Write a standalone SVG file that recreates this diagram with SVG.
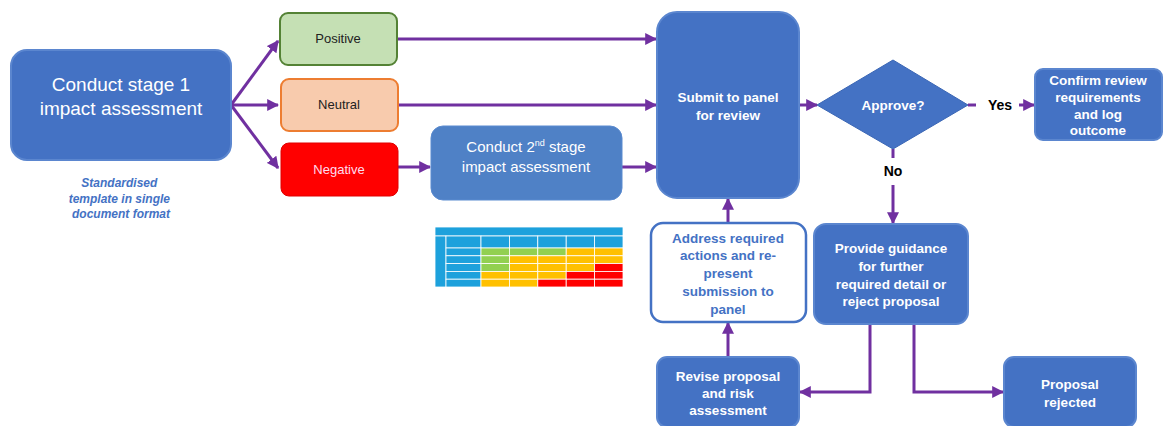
<svg xmlns="http://www.w3.org/2000/svg" width="1165" height="426" viewBox="0 0 1165 426">
<defs>
<marker id="ah" viewBox="0 0 10 10" refX="9" refY="5" markerWidth="4" markerHeight="4" orient="auto" markerUnits="strokeWidth">
<path d="M0,0 L10,5 L0,10 z" fill="#7030A0"/>
</marker>
<style>
.c{stroke:#7030A0;stroke-width:3;fill:none}
.a{marker-end:url(#ah)}
.blue{fill:#4472C4;stroke:#5B86CF;stroke-width:2}
.t{font-family:"Liberation Sans",Arial,sans-serif;text-anchor:middle}
.w{fill:#fff;font-weight:bold;font-size:13.5px}
.g{fill:#1DA1DC;stroke:#fff;stroke-width:0.8}
.gr{fill:#92D050;stroke:#fff;stroke-width:0.8}
.y{fill:#FFC000;stroke:#fff;stroke-width:0.8}
.r{fill:#FF0000;stroke:#fff;stroke-width:0.8}
</style>
</defs>
<rect width="1165" height="426" fill="#fff"/>

<g id="connectors">
<line class="c a" x1="231" y1="105" x2="278" y2="41"/>
<line class="c a" x1="231" y1="105" x2="278" y2="105"/>
<line class="c a" x1="231" y1="105" x2="278" y2="168"/>
<line class="c a" x1="398" y1="39" x2="656" y2="39"/>
<line class="c a" x1="398" y1="105" x2="656" y2="105"/>
<line class="c a" x1="398" y1="167" x2="430" y2="167"/>
<line class="c a" x1="622" y1="167" x2="656" y2="167"/>
<line class="c a" x1="799" y1="105" x2="817" y2="105"/>
<line class="c" x1="968" y1="105" x2="976" y2="105"/>
<line class="c a" x1="1019" y1="105" x2="1034" y2="105"/>
<line class="c" x1="893" y1="149" x2="893" y2="158"/>
<line class="c a" x1="893" y1="185" x2="893" y2="223"/>
<line class="c a" x1="728" y1="223" x2="728" y2="199"/>
<line class="c a" x1="728" y1="357" x2="728" y2="323"/>
<polyline class="c a" points="870,324 870,392 800,392"/>
<polyline class="c a" points="914,324 914,392 1003,392"/>
<text class="t" x="1000" y="110" font-size="14" font-weight="bold" fill="#000">Yes</text>
<text class="t" x="893" y="176" font-size="14" font-weight="bold" fill="#000">No</text>
</g>

<g id="stage1">
<rect class="blue" x="11" y="50" width="220" height="110" rx="16"/>
<text class="t" x="121" y="91" font-size="19" fill="#fff">Conduct stage 1</text>
<text class="t" x="121" y="115" font-size="19" fill="#fff">impact assessment</text>
</g>

<g id="note">
<text class="t" font-size="12" font-weight="bold" font-style="italic" fill="#4472C4">
<tspan x="121" y="187">Standardised</tspan>
<tspan x="121" y="203">template in single</tspan>
<tspan x="121" y="218">document format</tspan>
</text>
</g>

<g id="positive">
<rect x="280" y="13" width="117" height="52" rx="8" fill="#C5E0B4" stroke="#548235" stroke-width="2"/>
<text class="t" x="338" y="43" font-size="13" fill="#222">Positive</text>
</g>
<g id="neutral">
<rect x="281" y="79" width="117" height="52" rx="8" fill="#F8CBAD" stroke="#ED7D31" stroke-width="2"/>
<text class="t" x="339" y="109" font-size="13" fill="#222">Neutral</text>
</g>
<g id="negative">
<rect x="281" y="143" width="117" height="53" rx="8" fill="#FF0000" stroke="#E00000" stroke-width="1"/>
<text class="t" x="339" y="174" font-size="13" fill="#fde">Negative</text>
</g>

<g id="stage2">
<rect x="431" y="126" width="191" height="74" rx="12" fill="#4F81C6" stroke="#5B8BD0" stroke-width="1"/>
<text class="t" x="526" y="152" font-size="15" fill="#fff">Conduct 2<tspan font-size="9" dy="-6">nd</tspan><tspan dy="6"> stage</tspan></text>
<text class="t" x="526" y="172" font-size="15" fill="#fff">impact assessment</text>
</g>

<g id="matrix">
<rect class="g" x="435" y="227" width="188" height="9"/>
<rect class="g" x="435" y="236" width="11" height="51"/>
<rect class="g" x="446" y="236" width="35" height="12"/>
<rect class="g" x="481" y="236" width="28.4" height="12"/>
<rect class="g" x="509.4" y="236" width="28.4" height="12"/>
<rect class="g" x="537.8" y="236" width="28.4" height="12"/>
<rect class="g" x="566.2" y="236" width="28.4" height="12"/>
<rect class="g" x="594.6" y="236" width="28.4" height="12"/>
<rect class="g" x="446" y="248" width="35" height="7.8"/>
<rect class="g" x="446" y="255.8" width="35" height="7.8"/>
<rect class="g" x="446" y="263.6" width="35" height="7.8"/>
<rect class="g" x="446" y="271.4" width="35" height="7.8"/>
<rect class="g" x="446" y="279.2" width="35" height="7.8"/>
<rect class="gr" x="481" y="248" width="28.4" height="7.8"/>
<rect class="gr" x="509.4" y="248" width="28.4" height="7.8"/>
<rect class="gr" x="537.8" y="248" width="28.4" height="7.8"/>
<rect class="y" x="566.2" y="248" width="28.4" height="7.8"/>
<rect class="y" x="594.6" y="248" width="28.4" height="7.8"/>
<rect class="gr" x="481" y="255.8" width="28.4" height="7.8"/>
<rect class="y" x="509.4" y="255.8" width="28.4" height="7.8"/>
<rect class="y" x="537.8" y="255.8" width="28.4" height="7.8"/>
<rect class="y" x="566.2" y="255.8" width="28.4" height="7.8"/>
<rect class="y" x="594.6" y="255.8" width="28.4" height="7.8"/>
<rect class="gr" x="481" y="263.6" width="28.4" height="7.8"/>
<rect class="y" x="509.4" y="263.6" width="28.4" height="7.8"/>
<rect class="y" x="537.8" y="263.6" width="28.4" height="7.8"/>
<rect class="y" x="566.2" y="263.6" width="28.4" height="7.8"/>
<rect class="r" x="594.6" y="263.6" width="28.4" height="7.8"/>
<rect class="y" x="481" y="271.4" width="28.4" height="7.8"/>
<rect class="y" x="509.4" y="271.4" width="28.4" height="7.8"/>
<rect class="y" x="537.8" y="271.4" width="28.4" height="7.8"/>
<rect class="r" x="566.2" y="271.4" width="28.4" height="7.8"/>
<rect class="r" x="594.6" y="271.4" width="28.4" height="7.8"/>
<rect class="y" x="481" y="279.2" width="28.4" height="7.8"/>
<rect class="y" x="509.4" y="279.2" width="28.4" height="7.8"/>
<rect class="r" x="537.8" y="279.2" width="28.4" height="7.8"/>
<rect class="r" x="566.2" y="279.2" width="28.4" height="7.8"/>
<rect class="r" x="594.6" y="279.2" width="28.4" height="7.8"/>
</g>

<g id="submit">
<rect class="blue" x="657" y="12" width="142" height="186" rx="20"/>
<text class="t w" x="728" y="102">Submit to panel</text>
<text class="t w" x="728" y="120">for review</text>
</g>

<g id="approve">
<polygon points="893,60 968,105 893,149 817,105" fill="#4472C4" stroke="#3A66B5" stroke-width="1"/>
<text class="t w" x="893" y="110">Approve?</text>
</g>

<g id="confirm">
<rect class="blue" x="1035" y="69" width="127" height="71" rx="8"/>
<text class="t w"><tspan x="1098" y="85">Confirm review</tspan><tspan x="1098" y="102">requirements</tspan><tspan x="1098" y="119">and log</tspan><tspan x="1098" y="135">outcome</tspan></text>
</g>

<g id="guidance">
<rect class="blue" x="814" y="224" width="154" height="100" rx="12"/>
<text class="t w"><tspan x="891" y="253">Provide guidance</tspan><tspan x="891" y="271">for further</tspan><tspan x="891" y="289">required detail or</tspan><tspan x="891" y="306">reject proposal</tspan></text>
</g>

<g id="address">
<rect x="651" y="223" width="155" height="99" rx="12" fill="#fff" stroke="#4472C4" stroke-width="2.5"/>
<text class="t" font-size="13.5" font-weight="bold" fill="#4472C4"><tspan x="728" y="243">Address required</tspan><tspan x="728" y="260">actions and re-</tspan><tspan x="728" y="278">present</tspan><tspan x="728" y="296">submission to</tspan><tspan x="728" y="314">panel</tspan></text>
</g>

<g id="revise">
<rect class="blue" x="657" y="357" width="142" height="70" rx="10"/>
<text class="t w"><tspan x="728" y="381">Revise proposal</tspan><tspan x="728" y="398">and risk</tspan><tspan x="728" y="415">assessment</tspan></text>
</g>

<g id="rejected">
<rect class="blue" x="1004" y="357" width="132" height="70" rx="10"/>
<text class="t w"><tspan x="1070" y="389">Proposal</tspan><tspan x="1070" y="407">rejected</tspan></text>
</g>
</svg>
